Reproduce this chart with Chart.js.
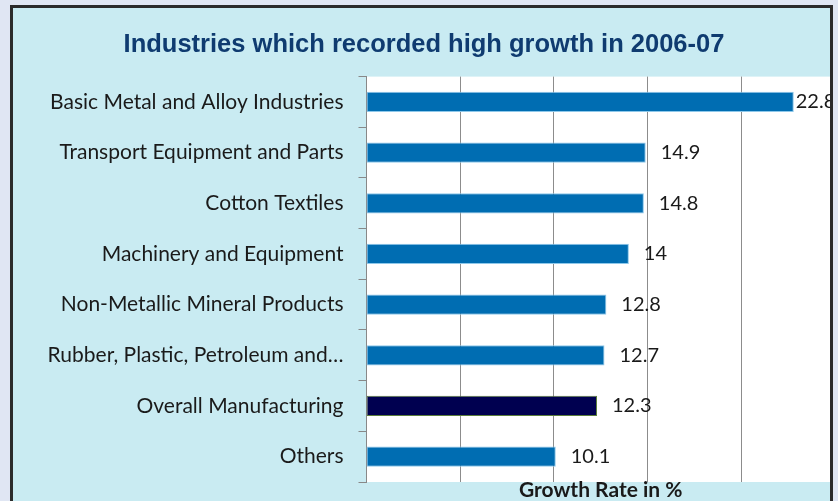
<!DOCTYPE html>
<html>
<head>
<meta charset="utf-8">
<script src="https://cdn.jsdelivr.net/npm/chart.js@4/dist/chart.umd.min.js"></script>
<style>
  html, body { margin: 0; padding: 0; background: #e0e6f3; overflow: hidden; }
  #frame {
    position: absolute; left: 10px; top: 5px; width: 823px; height: 520px;
    box-sizing: border-box; border: 3px solid #2b2b2b; background: #c9ebf2;
    overflow: hidden;
  }
  canvas { display: block; }
</style>
</head>
<body>
<div id="frame"><canvas id="growthChart" width="830" height="520"></canvas></div>
<script>
// Industries which recorded high growth in 2006-07

const categories = [
  "Basic Metal and Alloy Industries",
  "Transport Equipment and Parts",
  "Cotton Textiles",
  "Machinery and Equipment",
  "Non-Metallic Mineral Products",
  "Rubber, Plastic, Petroleum and…",
  "Overall Manufacturing",
  "Others",
];
const growthRates = [22.8, 14.9, 14.8, 14, 12.8, 12.7, 12.3, 10.1];
const xTicks = [0, 5, 10, 15, 20, 25];

const barBlue = "#006db2";
const barNavy = "#000050";

document.addEventListener("DOMContentLoaded", () => {
  const ctx = document.getElementById("growthChart");

  // white plot area
  const plotBackground = {
    id: "plotBackground",
    beforeDraw(chart) {
      const { ctx, chartArea: a } = chart;
      ctx.save();
      ctx.fillStyle = "#ffffff";
      ctx.fillRect(a.left, a.top, a.right - a.left, a.bottom - a.top);
      ctx.restore();
    },
  };

  // value labels at the end of each bar
  const valueLabels = {
    id: "valueLabels",
    afterDatasetsDraw(chart) {
      const { ctx, chartArea } = chart;
      const meta = chart.getDatasetMeta(0);
      ctx.save();
      ctx.font = "20px Lato, 'Open Sans', sans-serif";
      ctx.fillStyle = "#1a1a1a";
      ctx.textBaseline = "middle";
      meta.data.forEach((bar, i) => {
        const text = String(growthRates[i]);
        const w = ctx.measureText(text).width;
        let x = bar.x + 15;
        if (x + w > chartArea.right - 20) x = bar.x + 2;
        ctx.fillText(text, x, bar.y);
      });
      ctx.restore();
    },
  };

  new Chart(ctx, {
    type: "bar",
    data: {
      labels: categories,
      datasets: [
        {
          data: growthRates,
          backgroundColor: growthRates.map((v, i) =>
            categories[i] === "Overall Manufacturing" ? barNavy : barBlue
          ),
          borderColor: growthRates.map((v, i) =>
            categories[i] === "Overall Manufacturing" ? "#5b7d3a" : "#8ec8ea"
          ),
          borderWidth: 1,
          borderSkipped: false,
          barPercentage: 0.8,
          categoryPercentage: 0.5,
        },
      ],
    },
    options: {
      indexAxis: "y",
      responsive: false,
      animation: false,
      layout: { padding: { top: 0, left: 0, right: 8, bottom: 27 } },
      plugins: {
        legend: { display: false },
        tooltip: { enabled: false },
        title: {
          display: true,
          text: "Industries which recorded high growth in 2006-07",
          color: "#0f3b70",
          font: { family: "'Liberation Sans', Arial, sans-serif", size: 25.5, weight: "bold", lineHeight: 1.2 },
          padding: { top: 22, bottom: 16 },
        },
      },
      scales: {
        x: {
          min: xTicks[0],
          max: xTicks[xTicks.length - 1],
          afterBuildTicks: (scale) => {
            scale.ticks = xTicks.map((v) => ({ value: v }));
          },
          grid: { color: "#8c8c8c", drawTicks: false, lineWidth: (c) => (c.tick && c.tick.value === 0 ? 0 : 1) },
          border: { display: false },
          ticks: { display: false },
          title: {
            display: true,
            text: "Growth Rate in %",
            color: "#1a1a1a",
            font: { family: "Lato, 'Open Sans', sans-serif", size: 21, weight: "bold", lineHeight: 1 },
            padding: { top: -2, bottom: 0 },
          },
        },
        y: {
          afterFit: (scale) => {
            scale.width = 353.5;
          },
          grid: { offset: true, drawOnChartArea: false, tickLength: 8, color: "#888888" },
          border: { display: true, color: "#888888" },
          ticks: {
            color: "#1a1a1a",
            padding: 15,
            font: { family: "Lato, 'Open Sans', sans-serif", size: 21 },
          },
        },
      },
    },
    plugins: [plotBackground, valueLabels],
  });
});
</script>
</body>
</html>
